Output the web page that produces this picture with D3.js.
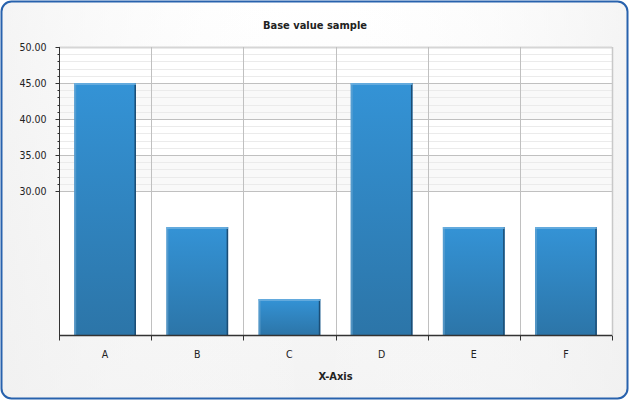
<!DOCTYPE html>
<html><head><meta charset="utf-8">
<script src="https://cdn.jsdelivr.net/npm/d3@7"></script>
<style>html,body{margin:0;padding:0;background:#fff;}svg{display:block;}</style>
</head><body>
<script>
const categories = ["A","B","C","D","E","F"];
const values = [45, 25, 15, 45, 25, 25];
const yTickLabels = [30, 35, 40, 45, 50];
const yMinorTicks = d3.range(30, 50.5, 1);
const yDomain = [10, 50];
const title = "Base value sample";
const xTitle = "X-Axis";

const W = 630, H = 401;
const m = {l: 59, r: 18, t: 47, b: 66};
const svg = d3.select("body").append("svg").attr("width", W).attr("height", H);
const defs = svg.append("defs");
const bg = defs.append("linearGradient").attr("id","bg").attr("x1",0).attr("y1",0).attr("x2",0).attr("y2",1);
bg.append("stop").attr("offset","0%").attr("stop-color","#ffffff");
bg.append("stop").attr("offset","100%").attr("stop-color","#f3f3f3");
const bg2 = defs.append("linearGradient").attr("id","bg2").attr("x1",0).attr("y1",0).attr("x2",1).attr("y2",0);
bg2.append("stop").attr("offset","0%").attr("stop-color","#f0f0f0");
bg2.append("stop").attr("offset","50%").attr("stop-color","#ffffff").attr("stop-opacity",0);
bg2.append("stop").attr("offset","100%").attr("stop-color","#f0f0f0");
const bar = defs.append("linearGradient").attr("id","bar").attr("x1",0).attr("y1",0).attr("x2",0).attr("y2",1);
bar.append("stop").attr("offset","0%").attr("stop-color","#3493d6");
bar.append("stop").attr("offset","100%").attr("stop-color","#2c75a8");

svg.append("rect").attr("x",1.5).attr("y",1.5).attr("width",W-4).attr("height",H-4).attr("rx",10)
  .attr("fill","url(#bg)");
svg.append("rect").attr("x",1.5).attr("y",1.5).attr("width",W-4).attr("height",H-4).attr("rx",10)
  .attr("fill","url(#bg2)").attr("opacity",0.7);
svg.append("rect").attr("x",1.5).attr("y",1.5).attr("width",W-4).attr("height",H-4).attr("rx",10)
  .attr("fill","none").attr("stroke","#2862ad").attr("stroke-width",2);

const x = d3.scaleBand().domain(categories).range([m.l, W - m.r]).paddingInner(0).paddingOuter(0);
const y = d3.scaleLinear().domain(yDomain).range([H - m.b, m.t]);
const font = "'DejaVu Sans Condensed', 'DejaVu Sans', sans-serif";

// plot background
svg.append("rect").attr("x",m.l).attr("y",m.t).attr("width",W-m.r-m.l).attr("height",H-m.b-m.t).attr("fill","#fff");
// interleaved bands
for (let i = 0; i < yTickLabels.length - 1; i++) {
  const lo = yTickLabels[i], hi = yTickLabels[i+1];
  if (i % 2 === 0) svg.append("rect").attr("x",m.l).attr("width",W-m.r-m.l)
    .attr("y",y(hi)).attr("height",y(lo)-y(hi)).attr("fill","#f9f9f9");
}
// minor grid
svg.append("g").selectAll("line").data(yMinorTicks.filter(v => !yTickLabels.includes(v))).join("line")
  .attr("x1",m.l).attr("x2",W-m.r).attr("y1",d=>Math.round(y(d))+0.5).attr("y2",d=>Math.round(y(d))+0.5)
  .attr("stroke","#ebebeb");
// major grid
svg.append("g").selectAll("line").data(yTickLabels).join("line")
  .attr("x1",m.l).attr("x2",W-m.r).attr("y1",d=>Math.round(y(d))+0.5).attr("y2",d=>Math.round(y(d))+0.5)
  .attr("stroke", d => d === 50 ? "#d6d6d6" : "#c0c0c0").attr("stroke-width", d => d === 50 ? 2 : 1);
// vertical grid
const bounds = categories.map(c => x(c)).concat([x.range()[1]]);
svg.append("g").selectAll("line").data(bounds.slice(1)).join("line")
  .attr("x1",d=>Math.round(d)+0.5).attr("x2",d=>Math.round(d)+0.5).attr("y1",m.t).attr("y2",H-m.b)
  .attr("stroke",(d,i)=> i === bounds.length-2 ? "#c8c8c8" : "#c0c0c0").attr("stroke-width",(d,i)=> i === bounds.length-2 ? 1.5 : 1);

// bars
const bw = x.bandwidth() * 0.67;
const g = svg.append("g").selectAll("g").data(values).join("g");
g.append("rect")
  .attr("x",(d,i)=> x(categories[i]) + (x.bandwidth()-bw)/2)
  .attr("y",d=>y(d)).attr("width",bw).attr("height",d=>y(yDomain[0])-y(d))
  .attr("fill","url(#bar)");
g.append("rect")
  .attr("x",(d,i)=> x(categories[i]) + (x.bandwidth()-bw)/2)
  .attr("y",d=>y(d)).attr("width",2).attr("height",d=>y(yDomain[0])-y(d))
  .attr("fill","#6aa6d2").attr("opacity",0.6);
g.append("rect")
  .attr("x",(d,i)=> x(categories[i]) + (x.bandwidth()+bw)/2 - 1.5)
  .attr("y",d=>y(d)).attr("width",1.5).attr("height",d=>y(yDomain[0])-y(d))
  .attr("fill","#1b4d75");
g.append("rect")
  .attr("x",(d,i)=> x(categories[i]) + (x.bandwidth()-bw)/2)
  .attr("y",d=>y(d)).attr("width",bw).attr("height",2)
  .attr("fill","#6fb0de").attr("opacity",0.8);

// y axis
const yAxis = svg.append("g").attr("transform",`translate(${m.l+0.5},0)`);
yAxis.append("line").attr("y1",m.t).attr("y2",H-m.b).attr("stroke","#333");
yAxis.selectAll(".mn").data(yMinorTicks).join("line").attr("class","mn")
  .attr("x1",-2).attr("x2",0).attr("y1",d=>Math.round(y(d))+0.5).attr("y2",d=>Math.round(y(d))+0.5).attr("stroke","#333");
yAxis.selectAll(".mj").data(yTickLabels).join("line").attr("class","mj")
  .attr("x1",-4).attr("x2",0).attr("y1",d=>Math.round(y(d))+0.5).attr("y2",d=>Math.round(y(d))+0.5).attr("stroke","#333");
yAxis.selectAll("text").data(yTickLabels).join("text")
  .attr("x",-13).attr("y",d=>y(d)).attr("dy","0.35em").attr("text-anchor","end")
  .attr("font-family",font).attr("font-size",10.5).attr("fill","#222").text(d=>d3.format(".2f")(d));

// x axis
const xAxis = svg.append("g").attr("transform",`translate(0,${H-m.b+0.5})`);
xAxis.append("line").attr("x1",m.l).attr("x2",W-m.r).attr("stroke","#333").attr("stroke-width",1.5);
xAxis.selectAll(".tk").data(bounds).join("line").attr("class","tk")
  .attr("x1",d=>Math.round(d)+0.5).attr("x2",d=>Math.round(d)+0.5).attr("y1",0).attr("y2",5).attr("stroke","#333");
xAxis.selectAll("text").data(categories).join("text")
  .attr("x",d=>x(d)+x.bandwidth()/2).attr("y",19).attr("dy","0.35em").attr("text-anchor","middle")
  .attr("font-family",font).attr("font-size",10.5).attr("fill","#222").text(d=>d);

svg.append("text").attr("x",(m.l+W-m.r)/2).attr("y",376).attr("dy","0.35em").attr("text-anchor","middle")
  .attr("font-family",font).attr("font-size",11).attr("font-weight","bold").attr("fill","#222").text(xTitle);
svg.append("text").attr("x",W/2).attr("y",25).attr("dy","0.35em").attr("text-anchor","middle")
  .attr("font-family",font).attr("font-size",11).attr("font-weight","bold").attr("fill","#222").text(title);
</script>
</body></html>
